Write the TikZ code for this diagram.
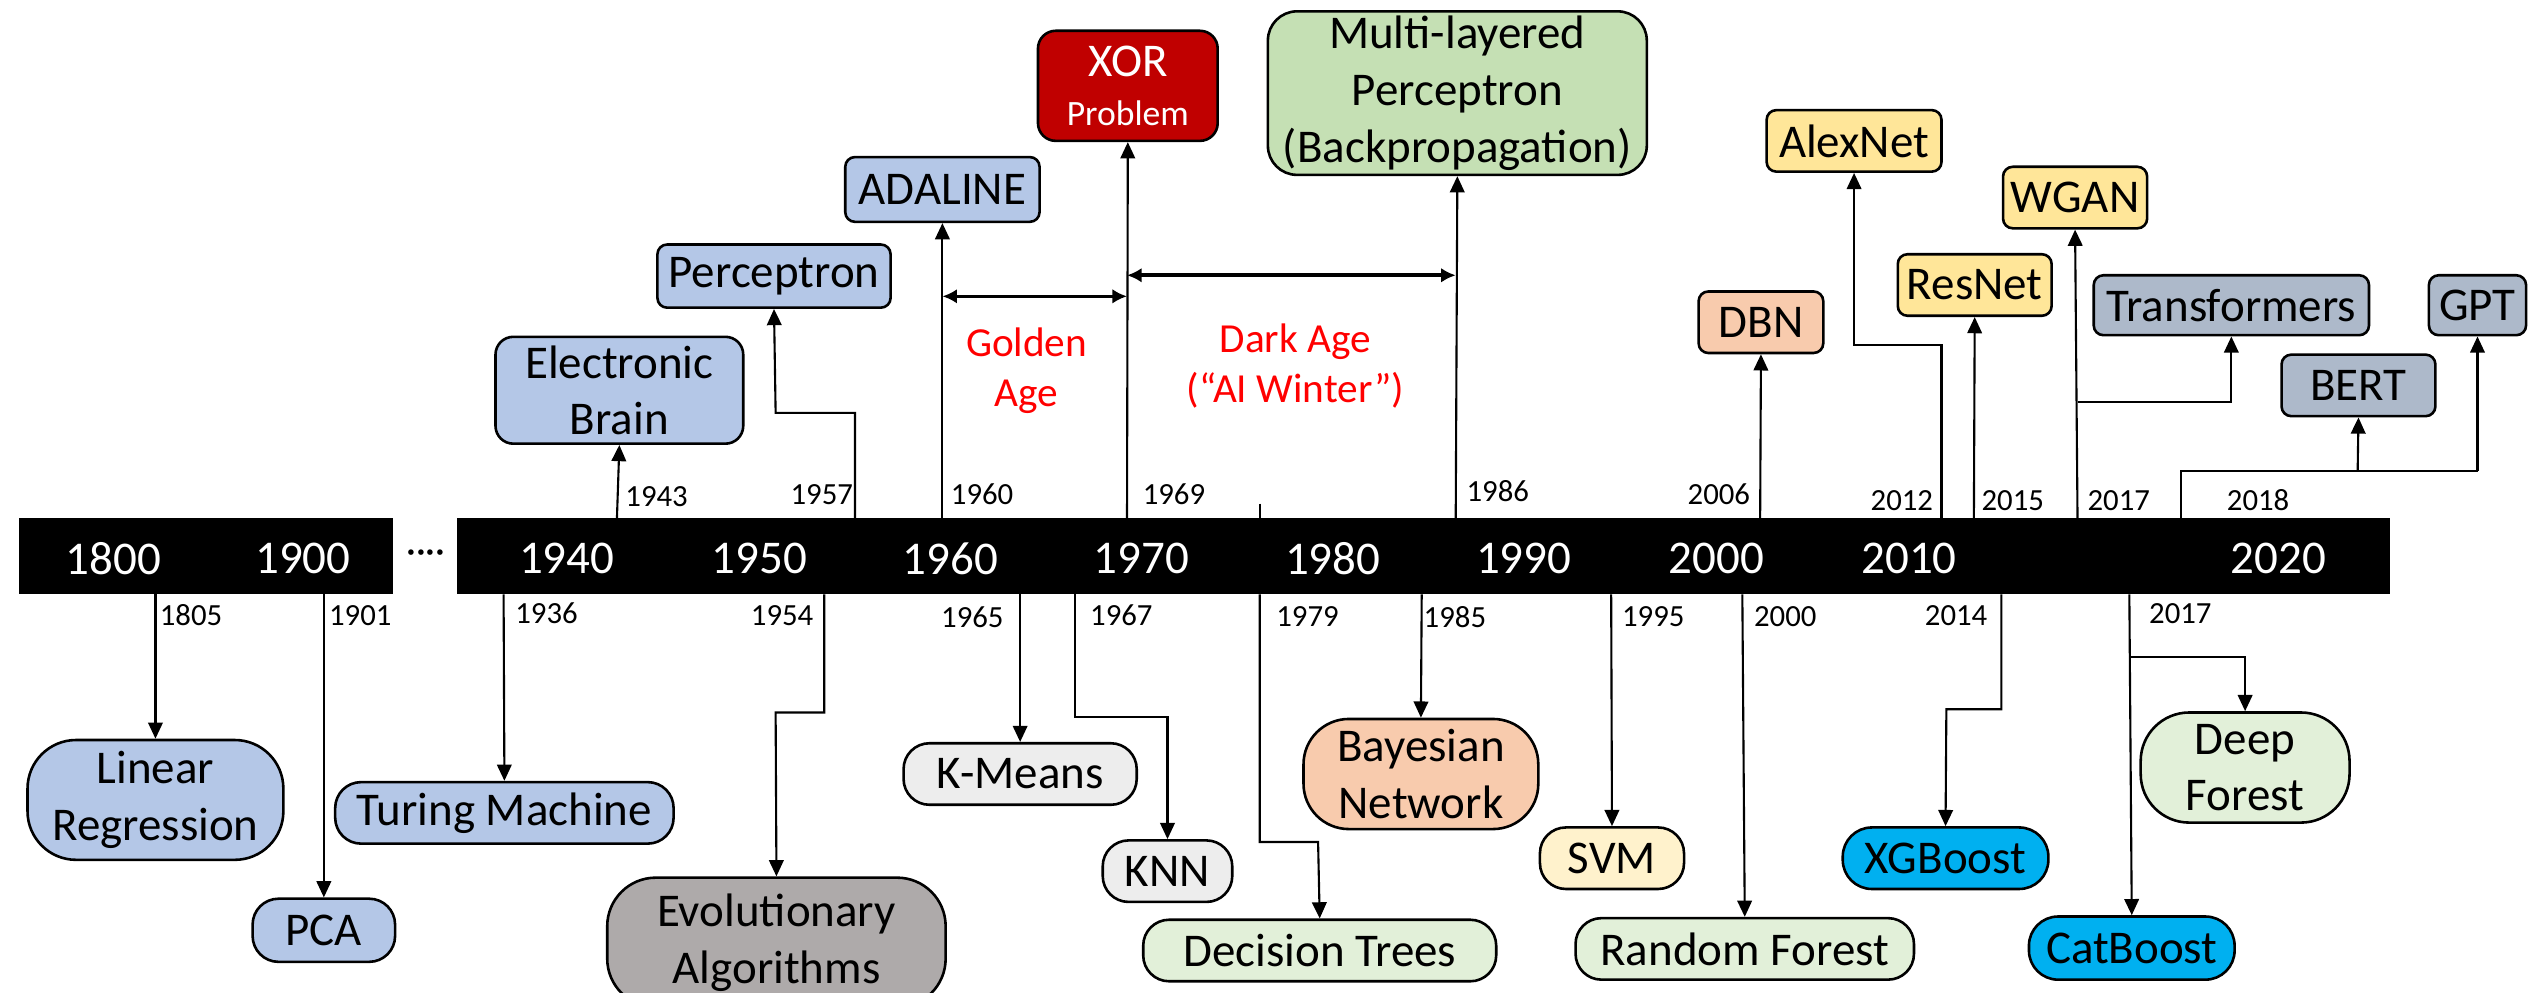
\documentclass[tikz,border=0pt]{standalone}
\usepackage{fontspec}
\setmainfont{Carlito}
\usetikzlibrary{arrows.meta}

\definecolor{cBlue}{HTML}{B4C7E7}
\definecolor{cXor}{HTML}{C00000}
\definecolor{cMlp}{HTML}{C5E0B4}
\definecolor{cPeach}{HTML}{F8CBAD}
\definecolor{cGold}{HTML}{FFE699}
\definecolor{cSlate}{HTML}{ADB9CA}
\definecolor{cLight}{HTML}{EDEDED}
\definecolor{cGrey}{HTML}{AEAAAA}
\definecolor{cMint}{HTML}{E2F0D9}
\definecolor{cCream}{HTML}{FFF2CC}
\definecolor{cCyan}{HTML}{00B0F0}
\definecolor{eraRed}{HTML}{FF0000}

\begin{document}
\begin{tikzpicture}[x=1pt,y=-1pt,
  box/.style={draw=black, line width=1.6pt, inner sep=0pt, align=center,
    font=\fontsize{29}{35}\selectfont, text=black},
  conn/.style={line width=1.3pt, -{Triangle[length=10pt,width=9pt]}},
  wire/.style={line width=1.3pt},
  span/.style={line width=2.2pt, {Latex[length=9pt,width=9pt]}-{Latex[length=9pt,width=9pt]}},
  yr/.style={font=\fontsize{19}{22}\selectfont, inner sep=0pt},
  decade/.style={font=\fontsize{29}{35}\selectfont, text=white, inner sep=0pt},
  era/.style={font=\fontsize{25.5}{31}\selectfont, text=eraRed, align=center, inner sep=0pt}]

\useasboundingbox (0,0) rectangle (1568,613);
\clip (0,0) rectangle (1568,613);

% ---------- time axis ----------
\fill[black] (12,320) rectangle (243,367);
\fill[black] (282,320) rectangle (1476,367);
\node[font=\fontsize{24}{28}\selectfont, inner sep=0pt] (gap) at (263,344) {····};

\foreach \yr/\px in {1800/70,1900/187,1940/350,1950/469,1960/587,1970/705,
                     1980/823,1990/941,2000/1060,2010/1179,2020/1407}
  \node[decade] (d\yr) at (\px,345) {\yr};

% attach points on the axis (top edge: u, bottom edge: b)
\foreach \n/\px in {1943/381,1957/528,1960/582,1969/696,1986/899,2006/1087,
                    2012/1199,2015/1219,2017/1283,2018/1347}
  \coordinate (u\n) at (\px,320);
\foreach \n/\px in {1805/96,1901/200,1936/311,1954/509,1965/630,1967/664,
                    1979/778,1985/878,1995/995,2000/1076,2014/1236,2017/1315}
  \coordinate (b\n) at (\px,367);
\coordinate (tick1979) at (778,311);

% ---------- milestones above the axis ----------
\node[box, fill=cBlue, minimum width=153, minimum height=66, rounded corners=11] (eb) at (382.5,241) {Electronic\\Brain};
\node[box, fill=cBlue, minimum width=144, minimum height=39, rounded corners=6] (perc) at (478,170.5) {Perceptron};
\node[box, fill=cBlue, minimum width=120, minimum height=40, rounded corners=6] (adal) at (582,117) {ADALINE};
\node[box, fill=cXor, text=white, minimum width=111, minimum height=68, rounded corners=11, font=\fontsize{29}{32}\selectfont] (xor) at (696.5,53) {XOR\\[-2pt]{\fontsize{22}{24}\selectfont Problem}};
\node[box, fill=cMlp, minimum width=234, minimum height=101, rounded corners=18] (mlp) at (900,57.5) {Multi-layered\\Perceptron\\(Backpropagation)};
\node[box, fill=cPeach, minimum width=77, minimum height=38, rounded corners=6] (dbn) at (1087.5,199) {DBN};
\node[box, fill=cGold, minimum width=108, minimum height=38, rounded corners=6] (alex) at (1145,87) {AlexNet};
\node[box, fill=cGold, minimum width=95, minimum height=38, rounded corners=6] (resnet) at (1219.5,176) {ResNet};
\node[box, fill=cGold, minimum width=89, minimum height=38, rounded corners=6] (wgan) at (1281.5,122) {WGAN};
\node[box, fill=cSlate, minimum width=170, minimum height=37, rounded corners=6] (trans) at (1378,188.5) {Transformers};
\node[box, fill=cSlate, minimum width=95, minimum height=38, rounded corners=6] (bert) at (1456.5,238) {BERT};
\node[box, fill=cSlate, minimum width=60, minimum height=37, rounded corners=6] (gpt) at (1530,188.5) {GPT};

% ---------- milestones below the axis ----------
\node[box, fill=cBlue, minimum width=158, minimum height=74, rounded corners=30] (lr) at (96,494) {Linear\\Regression};
\node[box, fill=cBlue, minimum width=88, minimum height=39, rounded corners=16] (pca) at (200,574.5) {PCA};
\node[box, fill=cBlue, minimum width=209, minimum height=38, rounded corners=16] (turing) at (311.5,502) {Turing Machine};
\node[box, fill=cGrey, minimum width=209, minimum height=80, rounded corners=30] (evo) at (479.5,582) {Evolutionary\\Algorithms};
\node[box, fill=cLight, minimum width=144, minimum height=38, rounded corners=16] (kmeans) at (630,478) {K-Means};
\node[box, fill=cLight, minimum width=80, minimum height=38, rounded corners=16] (knn) at (721,538) {KNN};
\node[box, fill=cMint, minimum width=218, minimum height=38, rounded corners=16] (dt) at (815,587) {Decision Trees};
\node[box, fill=cPeach, minimum width=145, minimum height=68, rounded corners=28] (bayes) at (877.5,478) {Bayesian\\Network};
\node[box, fill=cCream, minimum width=89, minimum height=38, rounded corners=16] (svm) at (995.5,530) {SVM};
\node[box, fill=cMint, minimum width=209, minimum height=38, rounded corners=16] (rf) at (1077.5,586) {Random Forest};
\node[box, fill=cCyan, minimum width=127, minimum height=38, rounded corners=18] (xgb) at (1201.5,530) {XGBoost};
\node[box, fill=cCyan, minimum width=127, minimum height=39, rounded corners=18] (cat) at (1316.5,585.5) {CatBoost};
\node[box, fill=cMint, minimum width=129, minimum height=68, rounded corners=30] (deep) at (1386.5,474) {Deep\\Forest};

% ---------- year labels ----------
\foreach \n/\px/\py in {1943/405.5/307,1957/507.5/305.5,1960/606.5/305.5,1969/725/305.5,
    1986/925/303,2006/1061.5/305,2012/1174.5/309,2015/1243/309,2017/1308.5/309,2018/1394.5/309}
  \node[yr] (lu\n) at (\px,\py) {\n};
\foreach \n/\px/\py in {1805/118/380,1901/222.5/380,1936/337.5/379,1954/483/380,
    1965/600.5/381,1967/692.5/380,1979/807.5/381,1985/898.5/381,1995/1021/381,
    2000/1102.5/381,2014/1208/380,2017/1346.5/379}
  \node[yr] (lb\n) at (\px,\py) {\n};

% ---------- era labels ----------
\node[era] (golden) at (634,229) {Golden\\Age};
\node[era] (dark) at (800,226) {Dark Age\\(“AI Winter”)};

% ---------- connectors above ----------
\coordinate (k1957a) at (528,255);
\coordinate (k1957b) at (479,255);
\coordinate (k2012a) at (1199,213);
\coordinate (k2012b) at (1145,213);
\coordinate (k2017) at (1283,248);
\coordinate (k2018a) at (1347,291);
\coordinate (k2018b) at (1456,291);
\coordinate (k2018c) at (1530,291);

\draw[conn] (u1943) -- (eb.south);
\draw[conn] (u1957) -- (k1957a) -- (k1957b) -- (perc.south);
\draw[conn] (u1960) -- (adal.south);
\draw[conn] (u1969) -- (xor.south);
\draw[conn] (u1986) -- (mlp.south);
\draw[conn] (u2006) -- (dbn.south);
\draw[conn] (u2012) -- (k2012a) -- (k2012b) -- (alex.south);
\draw[conn] (u2015) -- (resnet.south);
\draw[conn] (u2017) -- (wgan.south);
\draw[conn] (k2017) -| (trans.south);
\draw[wire] (u2018) -- (k2018a) -- (k2018c);
\draw[conn] (k2018b) -- (bert.south);
\draw[conn] (k2018c) -- (gpt.south);
\draw[wire] (tick1979) -- (tick1979 |- u1969);

% ---------- era spans ----------
\coordinate (g1) at (582,183);
\coordinate (g2) at (696,183);
\coordinate (w1) at (696,170);
\coordinate (w2) at (899,170);
\draw[span] (g1) -- (g2);
\draw[span] (w1) -- (w2);

% ---------- connectors below ----------
\coordinate (k1954a) at (509,440);
\coordinate (k1954b) at (479,440);
\coordinate (k1967a) at (664,443);
\coordinate (k1967b) at (721,443);
\coordinate (k1979a) at (778,520);
\coordinate (k1979b) at (814,520);
\coordinate (k2014a) at (1236,438);
\coordinate (k2014b) at (1202,438);
\coordinate (kdeep) at (1315,406);

\draw[conn] (b1805) -- (lr.north);
\draw[conn] (b1901) -- (pca.north);
\draw[conn] (b1936) -- (turing.north);
\draw[conn] (b1954) -- (k1954a) -- (k1954b) -- (evo.north);
\draw[conn] (b1965) -- (kmeans.north);
\draw[conn] (b1967) -- (k1967a) -- (k1967b) -- (knn.north);
\draw[conn] (b1979) -- (k1979a) -- (k1979b) -- (dt.north);
\draw[conn] (b1985) -- (bayes.north);
\draw[conn] (b1995) -- (svm.north);
\draw[conn] (b2000) -- (rf.north);
\draw[conn] (b2014) -- (k2014a) -- (k2014b) -- (xgb.north);
\draw[conn] (b2017) -- (cat.north);
\draw[conn] (kdeep) -| (deep.north);

\end{tikzpicture}
\end{document}
